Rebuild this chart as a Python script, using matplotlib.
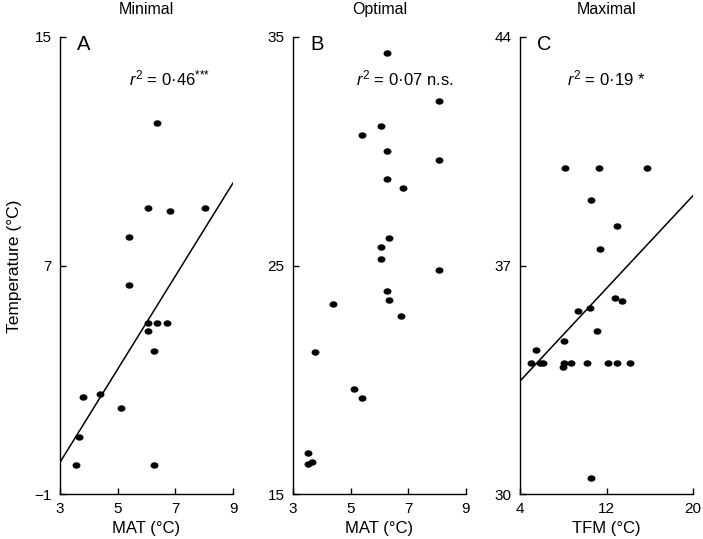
import matplotlib
matplotlib.use("Agg")
import matplotlib.pyplot as plt
import numpy as np
from matplotlib.path import Path
from matplotlib.transforms import Affine2D

plt.rcParams['font.family'] = ['Liberation Sans', 'DejaVu Sans']
plt.rcParams['mathtext.fontset'] = 'custom'
plt.rcParams['mathtext.rm'] = 'Liberation Sans'
plt.rcParams['mathtext.it'] = 'Liberation Sans:italic'

# Panel A - minimal temperature vs MAT
a_x = [6.36, 6.06, 6.83, 8.04, 5.39, 5.40, 6.06, 6.35, 6.72, 6.06, 6.26,
       3.79, 4.40, 5.12, 3.67, 3.54, 6.26]
a_y = [12.0, 9.0, 8.9, 9.0, 8.0, 6.3, 5.0, 5.0, 5.0, 4.7, 4.0,
       2.4, 2.5, 2.0, 1.0, 0.0, 0.0]
a_fit = (1.63, -4.78)  # slope, intercept

# Panel B - optimal temperature vs MAT
b_x = [6.25, 8.05, 6.06, 5.40, 6.26, 8.05, 6.26, 6.83, 6.34, 6.06, 6.06,
       8.05, 6.26, 6.34, 4.38, 6.75, 3.77, 5.13, 5.40, 3.53, 3.53, 3.65]
b_y = [34.3, 32.2, 31.1, 30.7, 30.0, 29.6, 28.8, 28.4, 26.2, 25.8, 25.3,
       24.8, 23.9, 23.5, 23.3, 22.8, 21.2, 19.6, 19.2, 16.8, 16.3, 16.4]

# Panel C - maximal temperature vs TFM
c_x = [8.13, 11.28, 15.75, 10.6, 12.94, 11.4, 12.82, 13.4, 10.5, 9.37, 11.12,
       8.07, 5.51, 4.99, 5.85, 6.10, 8.07, 8.69, 10.23, 12.14, 12.94, 14.18,
       7.98, 10.6]
c_y = [40.0, 40.0, 40.0, 39.0, 38.2, 37.5, 36.0, 35.9, 35.7, 35.6, 35.0,
       34.7, 34.4, 34.0, 34.0, 34.0, 34.0, 34.0, 34.0, 34.0, 34.0, 34.0,
       33.9, 30.5]
c_fit = (0.355, 32.04)

panels = [
    dict(x=a_x, y=a_y, fit=a_fit, title="Minimal", letter="A",
         xlim=(3, 9), xticks=[3, 5, 7, 9], ylim=(-1, 15), yticks=[-1, 7, 15],
         xlabel="MAT (°C)", stat=r"$r^2$ = 0·46$^{{*}{*}{*}}$", sx=170, left=60),
    dict(x=b_x, y=b_y, fit=None, title="Optimal", letter="B",
         xlim=(3, 9), xticks=[3, 5, 7, 9], ylim=(15, 35), yticks=[15, 25, 35],
         xlabel="MAT (°C)", stat=r"$r^2$ = 0·07 n.s.", sx=405, left=293),
    dict(x=c_x, y=c_y, fit=c_fit, title="Maximal", letter="C",
         xlim=(4, 20), xticks=[4, 12, 20], ylim=(30, 44), yticks=[30, 37, 44],
         xlabel="TFM (°C)", stat=r"$r^2$ = 0·19 *", sx=606, left=520),
]

W, H = 703, 539
fig = plt.figure(figsize=(W / 100, H / 100), dpi=100)
fig.patch.set_facecolor('white')

# slightly wide elliptical dot
dot = Path.unit_circle().transformed(Affine2D().scale(1.3, 1.0))

for p in panels:
    ax = fig.add_axes([p['left'] / W, (H - 494) / H, 173 / W, 457 / H])
    ax.scatter(p['x'], p['y'], marker=dot, s=22, color='black', zorder=3,
               clip_on=False)
    if p['fit'] is not None:
        xs = np.array(p['xlim'])
        ax.plot(xs, p['fit'][0] * xs + p['fit'][1], color='black', lw=1.1)
    ax.set_xlim(*p['xlim'])
    ax.set_ylim(*p['ylim'])
    ax.set_xticks(p['xticks'])
    ax.set_yticks(p['yticks'])
    ax.set_yticklabels([str(t).replace('-', '−') for t in p['yticks']])
    for s in ['top', 'right']:
        ax.spines[s].set_visible(False)
    for s in ['left', 'bottom']:
        ax.spines[s].set_linewidth(1.0)
    ax.tick_params(direction='in', length=4.5, width=1.0, labelsize=11,
                   pad=6)
    ax.set_xlabel(p['xlabel'], fontsize=12, labelpad=3)
    ax.set_title(p['title'], fontsize=11.5, pad=16.5)
    ax.text(0.139, 0.984, p['letter'], transform=ax.transAxes, fontsize=14.5,
            ha='center', va='center')
    fig.text(p['sx'] / W, 1 - 78 / H, p['stat'], fontsize=12,
             ha='center', va='center')

fig.text(15 / W, 1 - 266 / H, "Temperature (°C)", rotation=90,
         fontsize=12.5, ha='center', va='center')

fig.savefig("out.png", dpi=100)
